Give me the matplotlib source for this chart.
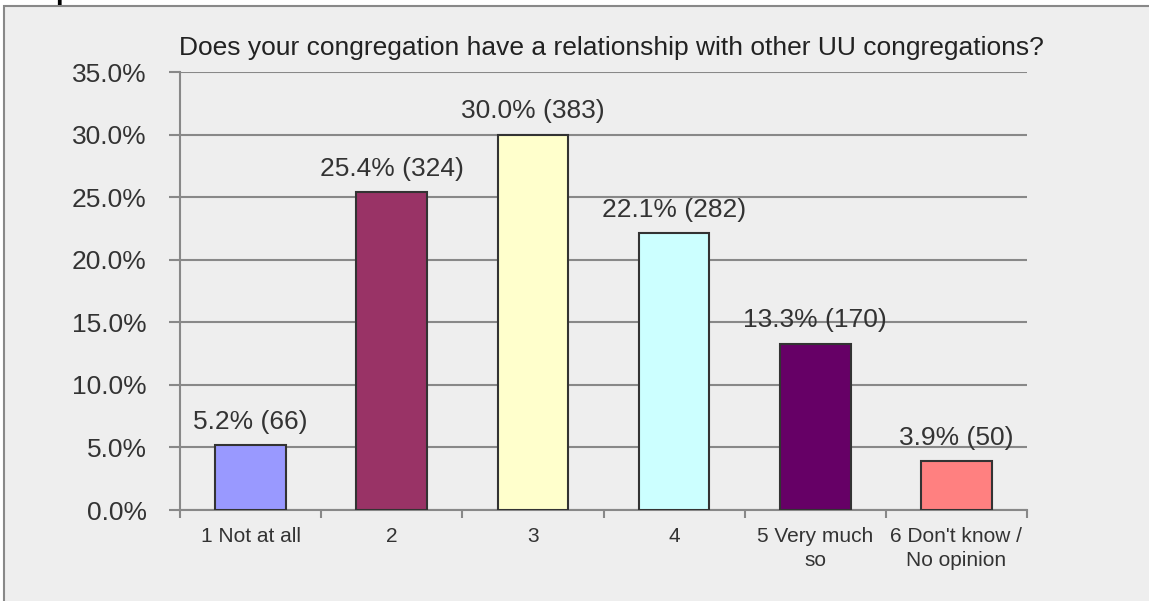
import matplotlib
matplotlib.use("Agg")
import matplotlib.pyplot as plt
from matplotlib.patches import Rectangle
from matplotlib.ticker import FixedLocator, NullFormatter

plt.rcParams['font.family'] = ['Liberation Sans', 'DejaVu Sans']

categories = ["1 Not at all", "2", "3", "4", "5 Very much\nso", "6 Don't know /\nNo opinion"]
percents = [5.2, 25.4, 30.0, 22.1, 13.3, 3.9]
counts = [66, 324, 383, 282, 170, 50]
colors = ["#9999FF", "#993366", "#FFFFCC", "#CCFFFF", "#660066", "#FF8080"]
yticks = [0, 5, 10, 15, 20, 25, 30, 35]

fig = plt.figure(figsize=(11.49, 6.01), dpi=100)
fig.patch.set_facecolor("white")

# grey panel behind the chart
panel = Rectangle((4 / 1149, -0.05), 1.1, 0.99 + 0.05, transform=fig.transFigure,
                  facecolor="#eeeeee", edgecolor="#888888", linewidth=1.5, zorder=-10)
fig.patches.append(panel)

# cut-off heading at the very top
fig.text(0.048, 1.0 + 0.002, "p", fontsize=20, fontweight="bold", color="black", va="baseline")

ax = fig.add_axes([180 / 1149, 91 / 601, 847 / 1149, 438 / 601])
ax.set_facecolor("#eeeeee")

x = list(range(len(categories)))
ax.bar(x, percents, width=0.5, color=colors, edgecolor="#333333", linewidth=1.5, zorder=3)

for i, (p, c) in enumerate(zip(percents, counts)):
    ax.text(i, p + 0.9, f"{p:.1f}% ({c})", ha="center", va="bottom", fontsize=19, color="#333333")

ax.set_xlim(-0.5, len(categories) - 0.5)
ax.set_ylim(0, 35)
ax.set_yticks(yticks)
ax.set_yticklabels([f"{v:.1f}%" for v in yticks], fontsize=19, color="#333333")
ax.yaxis.grid(True, color="#888888", linewidth=1.5, zorder=0)

ax.set_xticks(x)
ax.set_xticklabels(categories, fontsize=15, color="#333333", linespacing=1.35)
ax.tick_params(axis="x", length=0, pad=12)
ax.xaxis.set_minor_locator(FixedLocator([i - 0.5 for i in range(len(categories) + 1)]))
ax.xaxis.set_minor_formatter(NullFormatter())
ax.tick_params(axis="x", which="minor", length=6, width=1.5, color="#888888")
ax.tick_params(axis="y", length=8, width=1.5, color="#888888", pad=16)

for s in ["top", "right"]:
    ax.spines[s].set_visible(False)
for s in ["left", "bottom"]:
    ax.spines[s].set_color("#888888")
    ax.spines[s].set_linewidth(1.5)

fig.text(611 / 1149, 1 - 48 / 601,
         "Does your congregation have a relationship with other UU congregations?",
         fontsize=19, color="#222222", ha="center", va="center")

fig.savefig("out.png", dpi=100, facecolor=fig.get_facecolor())
